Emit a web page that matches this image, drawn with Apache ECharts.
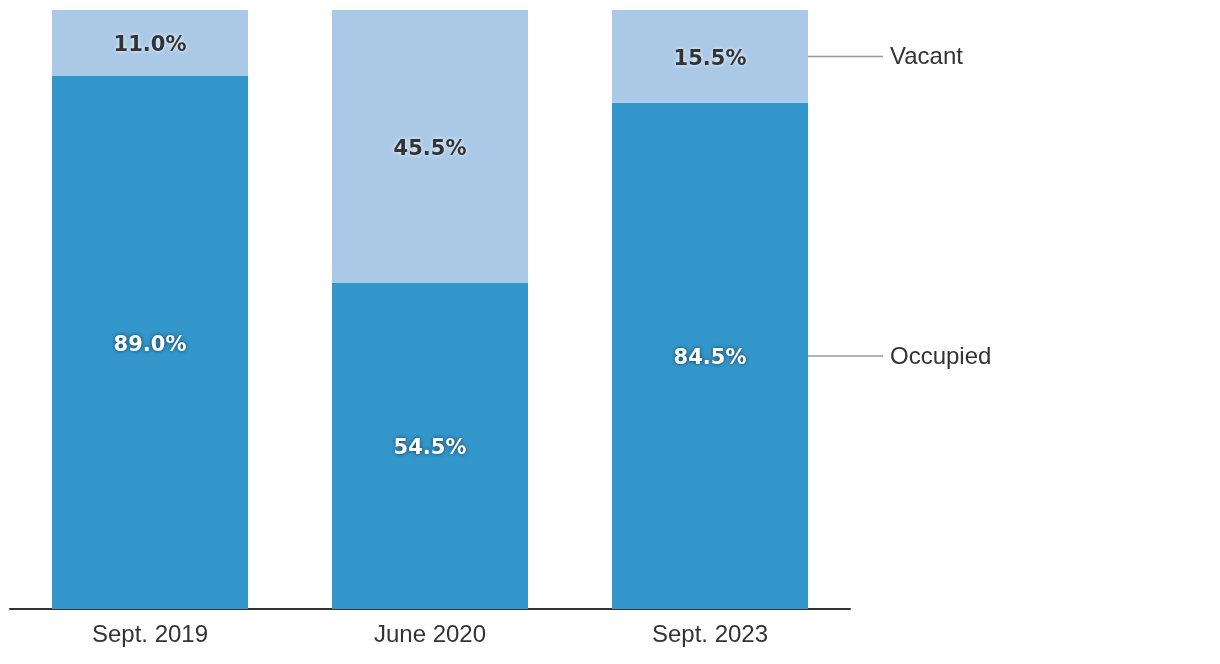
<!DOCTYPE html>
<html><head><meta charset="utf-8">
<script src="https://cdn.jsdelivr.net/npm/echarts@6/dist/echarts.min.js"></script>
<style>html,body{margin:0;padding:0;background:#fff}#c{width:1220px;height:664px}</style>
</head><body><div id="c"></div>
<script>
const categories = ['Sept. 2019', 'June 2020', 'Sept. 2023'];
const occupied = [89.0, 54.5, 84.5];
const vacant = [11.0, 45.5, 15.5];
const seriesNames = ['Occupied', 'Vacant'];

const chart = echarts.init(document.getElementById('c'), null, {renderer: 'canvas'});
const fmt = p => p.value.toFixed(1) + '%';
const labelFont = 'DejaVu Sans';
chart.setOption({
  animation: false,
  grid: {left: 10, right: 370, top: 10, bottom: 55, containLabel: false},
  xAxis: {
    type: 'category', data: categories,
    axisLine: {lineStyle: {color: '#333', width: 2}},
    axisTick: {show: false},
    axisLabel: {color: '#333', fontFamily: 'Liberation Sans', fontSize: 24, margin: 14}
  },
  yAxis: {type: 'value', min: 0, max: 100, show: false, splitLine: {show: false}},
  series: [
    {
      name: seriesNames[0], type: 'bar', stack: 's', data: occupied, barWidth: '70%',
      itemStyle: {color: '#3397cc'},
      label: {show: true, position: 'inside', offset: [0, 3], formatter: fmt, color: '#fff', fontFamily: labelFont,
        fontWeight: 'bold', fontSize: 21, textShadowColor: 'rgba(0,0,0,0.6)', textShadowBlur: 4}
    },
    {
      name: seriesNames[1], type: 'bar', stack: 's', data: vacant, barWidth: '70%',
      itemStyle: {color: '#a9c9e7'},
      label: {show: true, position: 'inside', offset: [0, 3], formatter: fmt, color: '#333', fontFamily: labelFont,
        fontWeight: 'bold', fontSize: 21, textShadowColor: 'rgba(255,255,255,0.9)', textShadowBlur: 4}
    }
  ]
});

// right-side annotations placed via the chart's own scales
const last = categories.length - 1;
const xC = chart.convertToPixel({xAxisIndex: 0}, categories[last]);
const band = (chart.convertToPixel({xAxisIndex: 0}, categories[1]) - chart.convertToPixel({xAxisIndex: 0}, categories[0]));
const xRight = xC + band * 0.35;
const mids = [occupied[last] / 2, occupied[last] + vacant[last] / 2];
const graphics = [];
mids.forEach((m, i) => {
  const y = chart.convertToPixel({yAxisIndex: 0}, m);
  graphics.push({type: 'line', shape: {x1: xRight, y1: y, x2: xRight + 75, y2: y},
    style: {stroke: '#999', lineWidth: 1.5}});
  graphics.push({type: 'text', x: xRight + 82, y: y + 1,
    style: {text: seriesNames[i], fill: '#333', font: '24px "Liberation Sans"', textVerticalAlign: 'middle'}});
});
chart.setOption({graphic: graphics});
</script></body></html>
